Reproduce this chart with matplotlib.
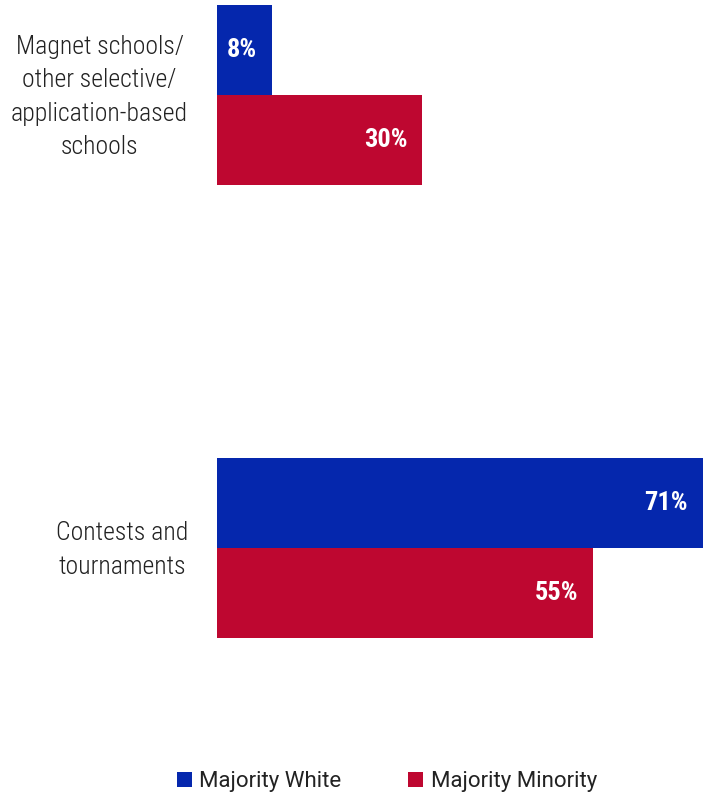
import matplotlib
matplotlib.use("Agg")
import matplotlib.pyplot as plt
from matplotlib import font_manager
from matplotlib.patches import Patch
from matplotlib.transforms import ScaledTranslation

# Data
categories = ["Magnet schools/\nother selective/\napplication-based\nschools",
              "Contests and\ntournaments"]
series_names = ["Majority White", "Majority Minority"]
majority_white = [8, 71]
majority_minority = [30, 55]
colors = ["#0527AD", "#BE0730"]

available = {f.name for f in font_manager.fontManager.ttflist}
narrow = next((n for n in ["Roboto Condensed", "Liberation Sans Narrow", "Roboto"]
               if n in available), "DejaVu Sans")
regular = "Roboto" if "Roboto" in available else "DejaVu Sans"

W, H, DPI = 704, 801, 100
fig = plt.figure(figsize=(W / DPI, H / DPI), dpi=DPI)

# Axes placed in pixel terms
left_px, right_px = 217, 703
top_px, bottom_px = 0, 730
ax = fig.add_axes([left_px / W, 1 - bottom_px / H,
                   (right_px - left_px) / W, (bottom_px - top_px) / H])

c0_px, c1_px = 95, 548          # group centres
spacing = c1_px - c0_px
bar_h = 90 / spacing
ax.set_xlim(0, 71)
ax.set_ylim((bottom_px - c0_px) / spacing, (top_px - c0_px) / spacing)

ypos = list(range(len(categories)))
for vals, col, sign in [(majority_white, colors[0], -1), (majority_minority, colors[1], 1)]:
    ys = [y + sign * bar_h / 2 for y in ypos]
    bars = ax.barh(ys, vals, height=bar_h, color=col, edgecolor="none")
    for b, v in zip(bars, vals):
        ax.annotate(f"{v}%", xy=(v, b.get_y() + b.get_height() / 2),
                    xytext=(-15, 0), textcoords="offset pixels",
                    ha="right", va="center", color="white",
                    fontsize=19, fontweight="bold", family=narrow)

ax.set_yticks(ypos)
ax.set_yticklabels(categories, fontsize=18.5, family=narrow, fontweight="light",
                   color="#222222", linespacing=1.48, ha="right",
                   multialignment="center")
ax.tick_params(axis="y", length=0, pad=29 * 72 / DPI)
# nudge category labels slightly upward
lift = ScaledTranslation(0, 5 / DPI, fig.dpi_scale_trans)
for lbl in ax.get_yticklabels():
    lbl.set_transform(lbl.get_transform() + lift)
ax.set_xticks([])
for s in ax.spines.values():
    s.set_visible(False)

handles = [Patch(facecolor=c, edgecolor="none") for c in colors]
fig.legend(handles, series_names, loc="center", bbox_to_anchor=(387 / W, 1 - 782 / H),
           ncol=2, frameon=False, prop={"family": regular, "size": 16},
           handlelength=0.68, handleheight=0.68, handletextpad=0.32, columnspacing=3.0,
           labelcolor="#222222")

fig.savefig("out.png", dpi=DPI)
